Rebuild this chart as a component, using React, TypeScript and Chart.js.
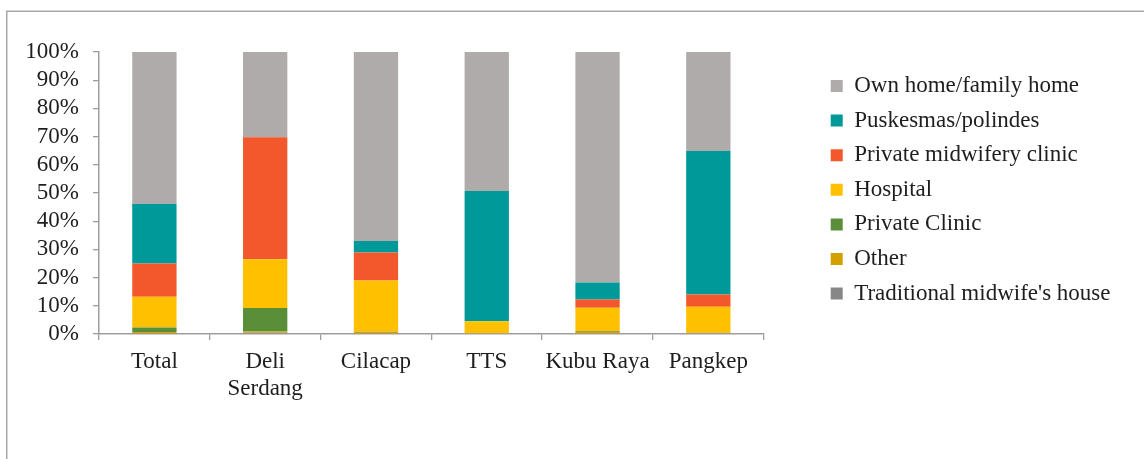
import React, { useEffect, useRef } from "react";
import { Chart, registerables } from "chart.js";

Chart.register(...registerables);

const categories: (string | string[])[] = ["Total", ["Deli", "Serdang"], "Cilacap", "TTS", "Kubu Raya", "Pangkep"];

const traditionalHouse = [0, 0.4, 0, 0, 0, 0];
const other = [0.7, 0.5, 0.9, 0, 0.8, 0.5];
const privateClinic = [1.6, 8.3, 0, 0, 0.3, 0];
const hospital = [10.9, 17.3, 18.1, 4.5, 8.2, 9.2];
const midwiferyClinic = [11.8, 43.3, 9.9, 0, 2.9, 4.3];
const puskesmas = [21.1, 0, 4.1, 46.2, 6.1, 50.9];
const ownHome = [53.9, 30.2, 67.0, 49.3, 81.7, 35.1];

const yTicks = [0, 10, 20, 30, 40, 50, 60, 70, 80, 90, 100];

const FONT = "'Liberation Serif', 'DejaVu Serif', serif";
const FS = 23;
const TEXT = "#1e1e1e";
const AXIS = "#9d9d9d";

const framePlugin = {
  id: "frame",
  beforeDraw(chart: any) {
    const ctx = chart.ctx;
    ctx.save();
    ctx.fillStyle = "#ffffff";
    ctx.fillRect(0, 0, chart.width, chart.height);
    ctx.strokeStyle = "#a8a8a8";
    ctx.lineWidth = 1.5;
    ctx.beginPath();
    ctx.moveTo(6.75, chart.height);
    ctx.lineTo(6.75, 11.25);
    ctx.lineTo(chart.width, 11.25);
    ctx.stroke();
    ctx.restore();
  },
};

export default function App() {
  const ref = useRef<HTMLCanvasElement | null>(null);

  useEffect(() => {
    if (!ref.current) return;
    const mk = (label: string, data: number[], color: string) => ({
      label,
      data,
      backgroundColor: color,
      borderWidth: 0,
      barPercentage: 0.4,
      categoryPercentage: 1,
    });
    const chart = new Chart(ref.current, {
      type: "bar",
      data: {
        labels: categories,
        datasets: [
          mk("Traditional midwife's house", traditionalHouse, "#878787"),
          mk("Other", other, "#D2A000"),
          mk("Private Clinic", privateClinic, "#5B8E39"),
          mk("Hospital", hospital, "#FFC000"),
          mk("Private midwifery clinic", midwiferyClinic, "#F2582C"),
          mk("Puskesmas/polindes", puskesmas, "#009999"),
          mk("Own home/family home", ownHome, "#AFABAB"),
        ],
      },
      options: {
        responsive: false,
        animation: false,
        devicePixelRatio: 1,
        layout: { padding: { left: 25, top: 52, right: 23.5, bottom: 47.8 } },
        font: { family: FONT, size: FS },
        color: TEXT,
        plugins: {
          tooltip: { enabled: false },
          title: { display: false },
          legend: {
            position: "right",
            align: "start",
            reverse: true,
            maxWidth: 420,
            title: { display: true, text: "", font: { size: 1 }, padding: { top: 9.7, bottom: 0 } },
            labels: {
              boxWidth: 12,
              boxHeight: 12,
              padding: 11.6,
              color: TEXT,
              font: { family: FONT, size: FS },
            },
          },
        },
        scales: {
          x: {
            stacked: true,
            grid: {
              display: true,
              offset: true,
              drawOnChartArea: false,
              drawTicks: true,
              tickLength: 6,
              color: AXIS,
              lineWidth: 1.3,
            },
            border: { display: true, color: AXIS, width: 1.5 },
            ticks: {
              color: TEXT,
              font: { family: FONT, size: FS },
              padding: 8,
              maxRotation: 0,
              autoSkip: false,
            },
          },
          y: {
            stacked: true,
            min: 0,
            max: 100,
            afterFit: (scale: any) => {
              scale.width = 74;
            },
            afterBuildTicks: (scale: any) => {
              scale.ticks = yTicks.map((v) => ({ value: v }));
            },
            grid: {
              display: true,
              drawOnChartArea: false,
              drawTicks: true,
              tickLength: 6,
              color: AXIS,
              lineWidth: 1.3,
            },
            border: { display: true, color: AXIS, width: 1.5 },
            ticks: {
              color: TEXT,
              font: { family: FONT, size: FS },
              padding: 14,
              autoSkip: false,
              callback: (v: any) => `${v}%`,
            },
          },
          spacer: {
            type: "linear",
            position: "right",
            display: true,
            afterFit: (scale: any) => {
              scale.width = 55.4;
            },
            grid: { display: false, drawTicks: false },
            border: { display: false },
            ticks: { display: false },
          },
        },
      },
      plugins: [framePlugin],
    } as any);
    return () => chart.destroy();
  }, []);

  return (
    <div style={{ position: "fixed", left: 0, top: 0, width: 1144, height: 459, background: "#fff" }}>
      <canvas ref={ref} width={1144} height={459} style={{ display: "block", width: 1144, height: 459 }} />
    </div>
  );
}
